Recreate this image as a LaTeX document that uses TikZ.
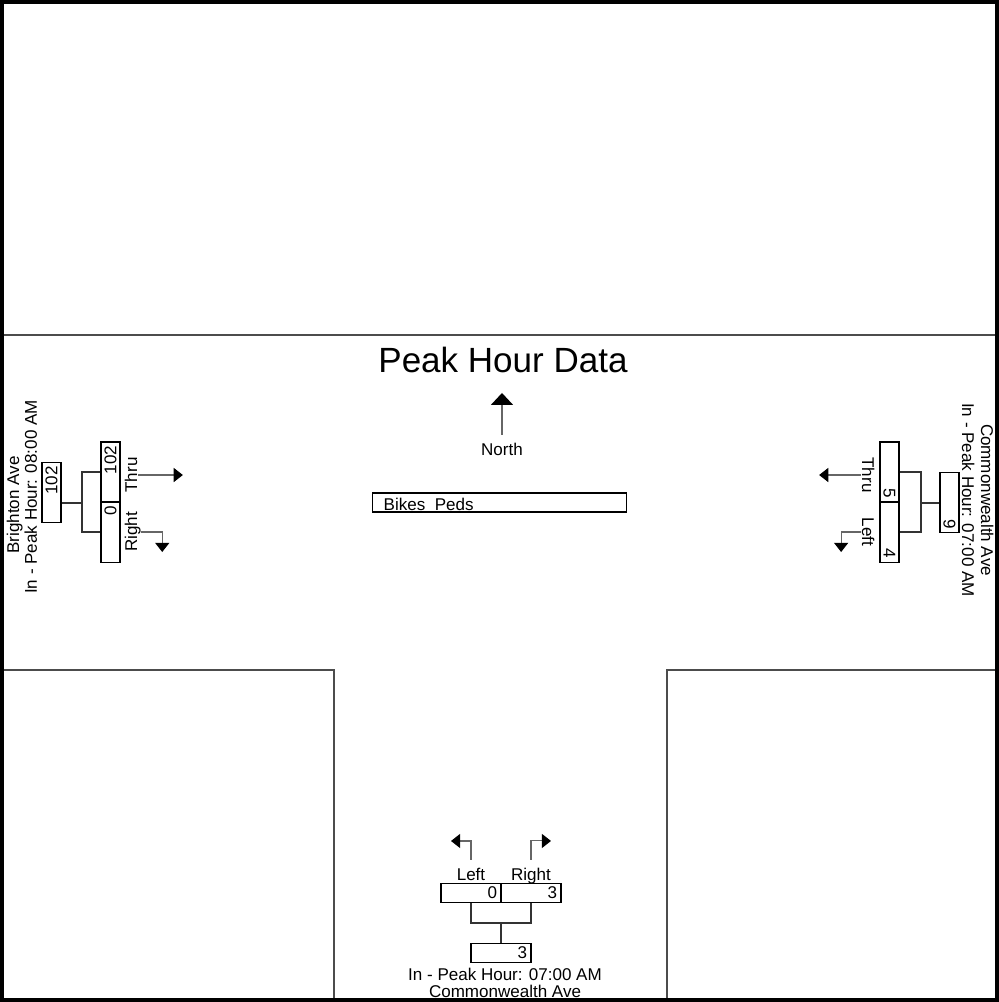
\documentclass[tikz,border=0pt]{standalone}
\usepackage{fontspec}
\setmainfont{Liberation Sans}
\usetikzlibrary{arrows.meta, positioning}

\begin{document}
\begin{tikzpicture}[x=0.01cm, y=-0.01cm,
    every node/.style={font=\fontsize{4.84}{5.8}\selectfont, inner sep=0pt},
    cntbox/.style={draw, line width=0.3pt, minimum width=0.6cm, minimum height=0.19cm,
      text width=0.52cm, align=right, inner xsep=0.04cm, inner ysep=0pt},
    leg/.style={draw=black!80, line width=0.3pt},
    turn/.style={draw=black!60, line width=0.3pt,
      -{Triangle[width=4pt, length=2.6pt, color=black]}},
    street/.style={draw=black!70, line width=0.55pt}]
  \useasboundingbox (0,0) rectangle (999,1002);

  % street edges
  \draw[street] (4,335) -- (996,335);
  \draw[street] (4,670) -- (334,670) -- (334,998);
  \draw[street] (667,998) -- (667,670) -- (996,670);
  \draw[line width=1.14pt] (2,2) rectangle (997,1000);

  % heading
  \node[anchor=base, font=\fontsize{9.96}{12}\selectfont] (title) at (503,372) {Peak Hour Data};
  \node[anchor=base] (north) at (502,455) {North};
  \draw[draw=black!60, line width=0.6pt, -{Triangle[width=6.2pt, length=3.4pt, color=black]}]
    ([yshift=0.07cm]north.north) -- ++(0,-42);
  \node[draw, line width=0.3pt, minimum width=2.53cm, minimum height=0.19cm] (bikes) at (499.5,502.5) {};
  \node[anchor=base west] (bikestxt) at (383,510) {Bikes\ \ Peds};

  % Brighton Ave (west)
  \node[rotate=90, anchor=base] (bname) at (19,505) {Brighton Ave};
  \node[rotate=90, anchor=base] (bpeak) at (37,497) {In - Peak Hour: 08:00 AM};
  \node[cntbox, rotate=90] (bin) at (51.5,492.5) {102};
  \node[cntbox, rotate=90] (bthru) at (110.5,472) {102};
  \node[cntbox, rotate=90] (bright) at (110.5,532) {0};
  \coordinate (bj) at (82,503);
  \draw[leg] (bthru.north) -| (bj) |- (bright.north);
  \draw[leg] (bj) -- (bin.south |- bj);
  \node[rotate=90, anchor=base] (bthrul) at (137,475) {Thru};
  \node[rotate=90, anchor=base] (brightl) at (137,532) {Right};
  \draw[turn] (bthrul.south) -- ++(45,0);
  \draw[turn] (brightl.south) -- ++(21,0) -- ++(0,20);

  % Commonwealth Ave (east)
  \node[rotate=-90, anchor=base] (cname) at (981,500) {Commonwealth Ave};
  \node[rotate=-90, anchor=base] (cpeak) at (962,500) {In - Peak Hour: 07:00 AM};
  \node[cntbox, rotate=-90] (cin) at (949.5,502.5) {9};
  \node[cntbox, rotate=-90] (cthru) at (889.5,472) {5};
  \node[cntbox, rotate=-90] (cleft) at (889.5,532) {4};
  \coordinate (cj) at (921,503);
  \draw[leg] (cthru.north) -| (cj) |- (cleft.north);
  \draw[leg] (cj) -- (cin.south |- cj);
  \node[rotate=-90, anchor=base] (cthrul) at (862,475) {Thru};
  \node[rotate=-90, anchor=base] (cleftl) at (862,532) {Left};
  \draw[turn] (cthrul.south) -- ++(-42,0);
  \draw[turn] (cleftl.south) -- ++(-20,0) -- ++(0,20);

  % Commonwealth Ave (south)
  \node[cntbox] (sleft) at (471,893) {0};
  \node[cntbox] (sright) at (531,893) {3};
  \node[cntbox] (sin) at (501,953) {3};
  \coordinate (sj) at (501,923);
  \draw[leg] (sleft.south) |- (sj) -| (sright.south);
  \draw[leg] (sj) -- (sin.north);
  \node[anchor=base] (sleftl) at (471,880) {Left};
  \node[anchor=base] (srightl) at (531,880) {Right};
  \draw[turn] ([yshift=0.07cm]sleftl.north) -- ++(0,-19) -- ++(-20,0);
  \draw[turn] ([yshift=0.07cm]srightl.north) -- ++(0,-19) -- ++(20,0);
  \node[anchor=base] (speak) at (505,980) {In - Peak Hour: 07:00 AM};
  \node[anchor=base] (sname) at (505,997) {Commonwealth Ave};
\end{tikzpicture}
\end{document}
